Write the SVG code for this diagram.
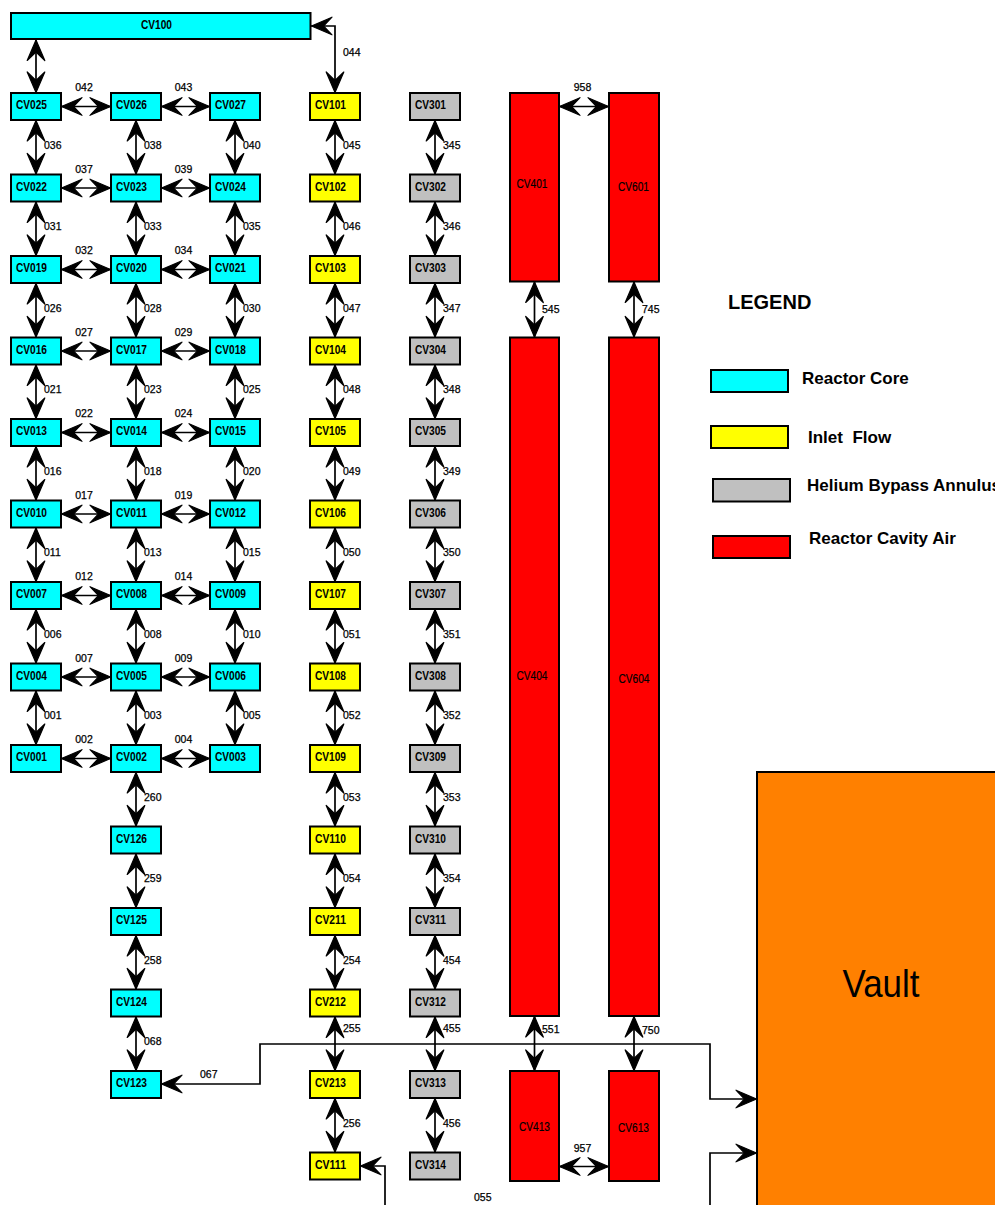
<svg xmlns="http://www.w3.org/2000/svg" width="995" height="1205" viewBox="0 0 995 1205">
<style>
.n rect{stroke:#000;stroke-width:2}
.c{fill:#00FFFF}.y{fill:#FFFF00}.g{fill:#C0C0C0}.r{fill:#FF0000}
.nl{font-family:"Liberation Sans",Arial,sans-serif;font-weight:bold;font-size:13px;fill:#000}
.rl{font-family:"Liberation Sans",Arial,sans-serif;font-size:12.5px;fill:#000;stroke:#000;stroke-width:0.2;text-anchor:middle}
.ll{font-family:"Liberation Sans",Arial,sans-serif;font-size:10.5px;fill:#000;stroke:#000;stroke-width:0.25}
.lm{text-anchor:middle}
#connectors path{stroke:#000;stroke-width:1.7;fill:none;marker-start:url(#ah);marker-end:url(#ah)}
.lg{font-family:"Liberation Sans",Arial,sans-serif;font-weight:bold;font-size:17px;fill:#000;white-space:pre}
</style>
<defs>
<marker id="ah" viewBox="-23 -11 24 22" refX="0" refY="0" markerWidth="24" markerHeight="22" markerUnits="userSpaceOnUse" orient="auto-start-reverse">
<path d="M-0.5,0 L-21,-8.8 L-12.5,0 L-21,8.8 Z" fill="#000" stroke="#000" stroke-width="1.2" stroke-linejoin="round"/>
</marker>
</defs>
<rect width="995" height="1205" fill="#fff"/>

<g id="connectors">
<path d="M36 39.5 V93"/>
<path d="M311 26 H335 V93"/>
<path d="M61 106.5 H111"/><path d="M161 106.5 H210"/>
<path d="M61 188 H111"/><path d="M161 188 H210"/>
<path d="M61 269.5 H111"/><path d="M161 269.5 H210"/>
<path d="M61 351 H111"/><path d="M161 351 H210"/>
<path d="M61 432.5 H111"/><path d="M161 432.5 H210"/>
<path d="M61 514 H111"/><path d="M161 514 H210"/>
<path d="M61 595.5 H111"/><path d="M161 595.5 H210"/>
<path d="M61 677 H111"/><path d="M161 677 H210"/>
<path d="M61 758.5 H111"/><path d="M161 758.5 H210"/>
<path d="M36 120 V174.5"/><path d="M136 120 V174.5"/><path d="M235 120 V174.5"/>
<path d="M36 201.5 V256"/><path d="M136 201.5 V256"/><path d="M235 201.5 V256"/>
<path d="M36 283 V337.5"/><path d="M136 283 V337.5"/><path d="M235 283 V337.5"/>
<path d="M36 364.5 V419"/><path d="M136 364.5 V419"/><path d="M235 364.5 V419"/>
<path d="M36 446 V500.5"/><path d="M136 446 V500.5"/><path d="M235 446 V500.5"/>
<path d="M36 527.5 V582"/><path d="M136 527.5 V582"/><path d="M235 527.5 V582"/>
<path d="M36 609 V663.5"/><path d="M136 609 V663.5"/><path d="M235 609 V663.5"/>
<path d="M36 690.5 V745"/><path d="M136 690.5 V745"/><path d="M235 690.5 V745"/>
<path d="M136 772 V826.5"/><path d="M136 853.5 V908"/><path d="M136 935 V989.5"/><path d="M136 1016.5 V1071"/>
<path d="M335 120 V174.5"/><path d="M335 201.5 V256"/><path d="M335 283 V337.5"/><path d="M335 364.5 V419"/>
<path d="M335 446 V500.5"/><path d="M335 527.5 V582"/><path d="M335 609 V663.5"/><path d="M335 690.5 V745"/>
<path d="M335 772 V826.5"/><path d="M335 853.5 V908"/><path d="M335 935 V989.5"/><path d="M335 1016.5 V1071"/><path d="M335 1098 V1152.5"/>
<path d="M435 120 V174.5"/><path d="M435 201.5 V256"/><path d="M435 283 V337.5"/><path d="M435 364.5 V419"/>
<path d="M435 446 V500.5"/><path d="M435 527.5 V582"/><path d="M435 609 V663.5"/><path d="M435 690.5 V745"/>
<path d="M435 772 V826.5"/><path d="M435 853.5 V908"/><path d="M435 935 V989.5"/><path d="M435 1016.5 V1071"/><path d="M435 1098 V1152.5"/>
<path d="M559 106.5 H609"/>
<path d="M534.5 281.5 V337.5"/><path d="M634 281.5 V337.5"/>
<path d="M534.5 1016 V1071"/><path d="M634 1016 V1071"/>
<path d="M559 1166.5 H609"/>
<path d="M161 1084 H260 V1044 H710 V1099 H757"/>
<path d="M360 1166 H385 V1240 H710 V1153 H757"/>
</g>

<g id="link-labels">
<text class="ll" x="343" y="56">044</text>
<text class="ll lm" x="84" y="91">042</text><text class="ll lm" x="183.5" y="91">043</text>
<text class="ll lm" x="84" y="172.5">037</text><text class="ll lm" x="183.5" y="172.5">039</text>
<text class="ll lm" x="84" y="254">032</text><text class="ll lm" x="183.5" y="254">034</text>
<text class="ll lm" x="84" y="335.5">027</text><text class="ll lm" x="183.5" y="335.5">029</text>
<text class="ll lm" x="84" y="417">022</text><text class="ll lm" x="183.5" y="417">024</text>
<text class="ll lm" x="84" y="498.5">017</text><text class="ll lm" x="183.5" y="498.5">019</text>
<text class="ll lm" x="84" y="580">012</text><text class="ll lm" x="183.5" y="580">014</text>
<text class="ll lm" x="84" y="661.5">007</text><text class="ll lm" x="183.5" y="661.5">009</text>
<text class="ll lm" x="84" y="743">002</text><text class="ll lm" x="183.5" y="743">004</text>
<text class="ll" x="44" y="148.5">036</text><text class="ll" x="144" y="148.5">038</text><text class="ll" x="243" y="148.5">040</text>
<text class="ll" x="44" y="230">031</text><text class="ll" x="144" y="230">033</text><text class="ll" x="243" y="230">035</text>
<text class="ll" x="44" y="311.5">026</text><text class="ll" x="144" y="311.5">028</text><text class="ll" x="243" y="311.5">030</text>
<text class="ll" x="44" y="393">021</text><text class="ll" x="144" y="393">023</text><text class="ll" x="243" y="393">025</text>
<text class="ll" x="44" y="474.5">016</text><text class="ll" x="144" y="474.5">018</text><text class="ll" x="243" y="474.5">020</text>
<text class="ll" x="44" y="556">011</text><text class="ll" x="144" y="556">013</text><text class="ll" x="243" y="556">015</text>
<text class="ll" x="44" y="637.5">006</text><text class="ll" x="144" y="637.5">008</text><text class="ll" x="243" y="637.5">010</text>
<text class="ll" x="44" y="719">001</text><text class="ll" x="144" y="719">003</text><text class="ll" x="243" y="719">005</text>
<text class="ll" x="144" y="800.5">260</text><text class="ll" x="144" y="882">259</text><text class="ll" x="144" y="963.5">258</text><text class="ll" x="144" y="1045">068</text>
<text class="ll" x="343" y="148.5">045</text><text class="ll" x="343" y="230">046</text><text class="ll" x="343" y="311.5">047</text><text class="ll" x="343" y="393">048</text>
<text class="ll" x="343" y="474.5">049</text><text class="ll" x="343" y="556">050</text><text class="ll" x="343" y="637.5">051</text><text class="ll" x="343" y="719">052</text>
<text class="ll" x="343" y="800.5">053</text><text class="ll" x="343" y="882">054</text><text class="ll" x="343" y="963.5">254</text><text class="ll" x="343" y="1032">255</text><text class="ll" x="343" y="1126.5">256</text>
<text class="ll" x="443" y="148.5">345</text><text class="ll" x="443" y="230">346</text><text class="ll" x="443" y="311.5">347</text><text class="ll" x="443" y="393">348</text>
<text class="ll" x="443" y="474.5">349</text><text class="ll" x="443" y="556">350</text><text class="ll" x="443" y="637.5">351</text><text class="ll" x="443" y="719">352</text>
<text class="ll" x="443" y="800.5">353</text><text class="ll" x="443" y="882">354</text><text class="ll" x="443" y="963.5">454</text><text class="ll" x="443" y="1032">455</text><text class="ll" x="443" y="1126.5">456</text>
<text class="ll lm" x="582.5" y="91">958</text>
<text class="ll" x="542" y="312.5">545</text><text class="ll" x="642" y="312.5">745</text>
<text class="ll" x="542" y="1033">551</text><text class="ll" x="642" y="1034">750</text>
<text class="ll lm" x="582.5" y="1151.5">957</text>
<text class="ll" x="200" y="1078">067</text>
<text class="ll" x="474" y="1200.5">055</text>
</g>

<g id="CV100" class="n"><rect class="c" x="11" y="13" width="299.5" height="26"/><text class="nl" x="141" y="28.5" textLength="31" lengthAdjust="spacingAndGlyphs">CV100</text></g>

<g id="CV025" class="n"><rect class="c" x="11" y="93" width="50" height="27"/><text class="nl" x="16" y="109" textLength="31" lengthAdjust="spacingAndGlyphs">CV025</text></g>
<g id="CV026" class="n"><rect class="c" x="111" y="93" width="50" height="27"/><text class="nl" x="116" y="109" textLength="31" lengthAdjust="spacingAndGlyphs">CV026</text></g>
<g id="CV027" class="n"><rect class="c" x="210" y="93" width="50" height="27"/><text class="nl" x="215" y="109" textLength="31" lengthAdjust="spacingAndGlyphs">CV027</text></g>
<g id="CV022" class="n"><rect class="c" x="11" y="174.5" width="50" height="27"/><text class="nl" x="16" y="190.5" textLength="31" lengthAdjust="spacingAndGlyphs">CV022</text></g>
<g id="CV023" class="n"><rect class="c" x="111" y="174.5" width="50" height="27"/><text class="nl" x="116" y="190.5" textLength="31" lengthAdjust="spacingAndGlyphs">CV023</text></g>
<g id="CV024" class="n"><rect class="c" x="210" y="174.5" width="50" height="27"/><text class="nl" x="215" y="190.5" textLength="31" lengthAdjust="spacingAndGlyphs">CV024</text></g>
<g id="CV019" class="n"><rect class="c" x="11" y="256" width="50" height="27"/><text class="nl" x="16" y="272" textLength="31" lengthAdjust="spacingAndGlyphs">CV019</text></g>
<g id="CV020" class="n"><rect class="c" x="111" y="256" width="50" height="27"/><text class="nl" x="116" y="272" textLength="31" lengthAdjust="spacingAndGlyphs">CV020</text></g>
<g id="CV021" class="n"><rect class="c" x="210" y="256" width="50" height="27"/><text class="nl" x="215" y="272" textLength="31" lengthAdjust="spacingAndGlyphs">CV021</text></g>
<g id="CV016" class="n"><rect class="c" x="11" y="337.5" width="50" height="27"/><text class="nl" x="16" y="353.5" textLength="31" lengthAdjust="spacingAndGlyphs">CV016</text></g>
<g id="CV017" class="n"><rect class="c" x="111" y="337.5" width="50" height="27"/><text class="nl" x="116" y="353.5" textLength="31" lengthAdjust="spacingAndGlyphs">CV017</text></g>
<g id="CV018" class="n"><rect class="c" x="210" y="337.5" width="50" height="27"/><text class="nl" x="215" y="353.5" textLength="31" lengthAdjust="spacingAndGlyphs">CV018</text></g>
<g id="CV013" class="n"><rect class="c" x="11" y="419" width="50" height="27"/><text class="nl" x="16" y="435" textLength="31" lengthAdjust="spacingAndGlyphs">CV013</text></g>
<g id="CV014" class="n"><rect class="c" x="111" y="419" width="50" height="27"/><text class="nl" x="116" y="435" textLength="31" lengthAdjust="spacingAndGlyphs">CV014</text></g>
<g id="CV015" class="n"><rect class="c" x="210" y="419" width="50" height="27"/><text class="nl" x="215" y="435" textLength="31" lengthAdjust="spacingAndGlyphs">CV015</text></g>
<g id="CV010" class="n"><rect class="c" x="11" y="500.5" width="50" height="27"/><text class="nl" x="16" y="516.5" textLength="31" lengthAdjust="spacingAndGlyphs">CV010</text></g>
<g id="CV011" class="n"><rect class="c" x="111" y="500.5" width="50" height="27"/><text class="nl" x="116" y="516.5" textLength="31" lengthAdjust="spacingAndGlyphs">CV011</text></g>
<g id="CV012" class="n"><rect class="c" x="210" y="500.5" width="50" height="27"/><text class="nl" x="215" y="516.5" textLength="31" lengthAdjust="spacingAndGlyphs">CV012</text></g>
<g id="CV007" class="n"><rect class="c" x="11" y="582" width="50" height="27"/><text class="nl" x="16" y="598" textLength="31" lengthAdjust="spacingAndGlyphs">CV007</text></g>
<g id="CV008" class="n"><rect class="c" x="111" y="582" width="50" height="27"/><text class="nl" x="116" y="598" textLength="31" lengthAdjust="spacingAndGlyphs">CV008</text></g>
<g id="CV009" class="n"><rect class="c" x="210" y="582" width="50" height="27"/><text class="nl" x="215" y="598" textLength="31" lengthAdjust="spacingAndGlyphs">CV009</text></g>
<g id="CV004" class="n"><rect class="c" x="11" y="663.5" width="50" height="27"/><text class="nl" x="16" y="679.5" textLength="31" lengthAdjust="spacingAndGlyphs">CV004</text></g>
<g id="CV005" class="n"><rect class="c" x="111" y="663.5" width="50" height="27"/><text class="nl" x="116" y="679.5" textLength="31" lengthAdjust="spacingAndGlyphs">CV005</text></g>
<g id="CV006" class="n"><rect class="c" x="210" y="663.5" width="50" height="27"/><text class="nl" x="215" y="679.5" textLength="31" lengthAdjust="spacingAndGlyphs">CV006</text></g>
<g id="CV001" class="n"><rect class="c" x="11" y="745" width="50" height="27"/><text class="nl" x="16" y="761" textLength="31" lengthAdjust="spacingAndGlyphs">CV001</text></g>
<g id="CV002" class="n"><rect class="c" x="111" y="745" width="50" height="27"/><text class="nl" x="116" y="761" textLength="31" lengthAdjust="spacingAndGlyphs">CV002</text></g>
<g id="CV003" class="n"><rect class="c" x="210" y="745" width="50" height="27"/><text class="nl" x="215" y="761" textLength="31" lengthAdjust="spacingAndGlyphs">CV003</text></g>
<g id="CV126" class="n"><rect class="c" x="111" y="826.5" width="50" height="27"/><text class="nl" x="116" y="842.5" textLength="31" lengthAdjust="spacingAndGlyphs">CV126</text></g>
<g id="CV125" class="n"><rect class="c" x="111" y="908" width="50" height="27"/><text class="nl" x="116" y="924" textLength="31" lengthAdjust="spacingAndGlyphs">CV125</text></g>
<g id="CV124" class="n"><rect class="c" x="111" y="989.5" width="50" height="27"/><text class="nl" x="116" y="1005.5" textLength="31" lengthAdjust="spacingAndGlyphs">CV124</text></g>
<g id="CV123" class="n"><rect class="c" x="111" y="1071" width="50" height="27"/><text class="nl" x="116" y="1087" textLength="31" lengthAdjust="spacingAndGlyphs">CV123</text></g>

<g id="CV101" class="n"><rect class="y" x="310" y="93" width="50" height="27"/><text class="nl" x="315" y="109" textLength="31" lengthAdjust="spacingAndGlyphs">CV101</text></g>
<g id="CV102" class="n"><rect class="y" x="310" y="174.5" width="50" height="27"/><text class="nl" x="315" y="190.5" textLength="31" lengthAdjust="spacingAndGlyphs">CV102</text></g>
<g id="CV103" class="n"><rect class="y" x="310" y="256" width="50" height="27"/><text class="nl" x="315" y="272" textLength="31" lengthAdjust="spacingAndGlyphs">CV103</text></g>
<g id="CV104" class="n"><rect class="y" x="310" y="337.5" width="50" height="27"/><text class="nl" x="315" y="353.5" textLength="31" lengthAdjust="spacingAndGlyphs">CV104</text></g>
<g id="CV105" class="n"><rect class="y" x="310" y="419" width="50" height="27"/><text class="nl" x="315" y="435" textLength="31" lengthAdjust="spacingAndGlyphs">CV105</text></g>
<g id="CV106" class="n"><rect class="y" x="310" y="500.5" width="50" height="27"/><text class="nl" x="315" y="516.5" textLength="31" lengthAdjust="spacingAndGlyphs">CV106</text></g>
<g id="CV107" class="n"><rect class="y" x="310" y="582" width="50" height="27"/><text class="nl" x="315" y="598" textLength="31" lengthAdjust="spacingAndGlyphs">CV107</text></g>
<g id="CV108" class="n"><rect class="y" x="310" y="663.5" width="50" height="27"/><text class="nl" x="315" y="679.5" textLength="31" lengthAdjust="spacingAndGlyphs">CV108</text></g>
<g id="CV109" class="n"><rect class="y" x="310" y="745" width="50" height="27"/><text class="nl" x="315" y="761" textLength="31" lengthAdjust="spacingAndGlyphs">CV109</text></g>
<g id="CV110" class="n"><rect class="y" x="310" y="826.5" width="50" height="27"/><text class="nl" x="315" y="842.5" textLength="31" lengthAdjust="spacingAndGlyphs">CV110</text></g>
<g id="CV211" class="n"><rect class="y" x="310" y="908" width="50" height="27"/><text class="nl" x="315" y="924" textLength="31" lengthAdjust="spacingAndGlyphs">CV211</text></g>
<g id="CV212" class="n"><rect class="y" x="310" y="989.5" width="50" height="27"/><text class="nl" x="315" y="1005.5" textLength="31" lengthAdjust="spacingAndGlyphs">CV212</text></g>
<g id="CV213" class="n"><rect class="y" x="310" y="1071" width="50" height="27"/><text class="nl" x="315" y="1087" textLength="31" lengthAdjust="spacingAndGlyphs">CV213</text></g>
<g id="CV111" class="n"><rect class="y" x="310" y="1152.5" width="50" height="27"/><text class="nl" x="315" y="1168.5" textLength="31" lengthAdjust="spacingAndGlyphs">CV111</text></g>

<g id="CV301" class="n"><rect class="g" x="410" y="93" width="50" height="27"/><text class="nl" x="415" y="109" textLength="31" lengthAdjust="spacingAndGlyphs">CV301</text></g>
<g id="CV302" class="n"><rect class="g" x="410" y="174.5" width="50" height="27"/><text class="nl" x="415" y="190.5" textLength="31" lengthAdjust="spacingAndGlyphs">CV302</text></g>
<g id="CV303" class="n"><rect class="g" x="410" y="256" width="50" height="27"/><text class="nl" x="415" y="272" textLength="31" lengthAdjust="spacingAndGlyphs">CV303</text></g>
<g id="CV304" class="n"><rect class="g" x="410" y="337.5" width="50" height="27"/><text class="nl" x="415" y="353.5" textLength="31" lengthAdjust="spacingAndGlyphs">CV304</text></g>
<g id="CV305" class="n"><rect class="g" x="410" y="419" width="50" height="27"/><text class="nl" x="415" y="435" textLength="31" lengthAdjust="spacingAndGlyphs">CV305</text></g>
<g id="CV306" class="n"><rect class="g" x="410" y="500.5" width="50" height="27"/><text class="nl" x="415" y="516.5" textLength="31" lengthAdjust="spacingAndGlyphs">CV306</text></g>
<g id="CV307" class="n"><rect class="g" x="410" y="582" width="50" height="27"/><text class="nl" x="415" y="598" textLength="31" lengthAdjust="spacingAndGlyphs">CV307</text></g>
<g id="CV308" class="n"><rect class="g" x="410" y="663.5" width="50" height="27"/><text class="nl" x="415" y="679.5" textLength="31" lengthAdjust="spacingAndGlyphs">CV308</text></g>
<g id="CV309" class="n"><rect class="g" x="410" y="745" width="50" height="27"/><text class="nl" x="415" y="761" textLength="31" lengthAdjust="spacingAndGlyphs">CV309</text></g>
<g id="CV310" class="n"><rect class="g" x="410" y="826.5" width="50" height="27"/><text class="nl" x="415" y="842.5" textLength="31" lengthAdjust="spacingAndGlyphs">CV310</text></g>
<g id="CV311" class="n"><rect class="g" x="410" y="908" width="50" height="27"/><text class="nl" x="415" y="924" textLength="31" lengthAdjust="spacingAndGlyphs">CV311</text></g>
<g id="CV312" class="n"><rect class="g" x="410" y="989.5" width="50" height="27"/><text class="nl" x="415" y="1005.5" textLength="31" lengthAdjust="spacingAndGlyphs">CV312</text></g>
<g id="CV313" class="n"><rect class="g" x="410" y="1071" width="50" height="27"/><text class="nl" x="415" y="1087" textLength="31" lengthAdjust="spacingAndGlyphs">CV313</text></g>
<g id="CV314" class="n"><rect class="g" x="410" y="1152.5" width="50" height="27"/><text class="nl" x="415" y="1168.5" textLength="31" lengthAdjust="spacingAndGlyphs">CV314</text></g>

<g id="CV401" class="n"><rect class="r" x="510" y="93" width="49" height="188.5"/><text class="rl" x="532" y="188" textLength="31" lengthAdjust="spacingAndGlyphs">CV401</text></g>
<g id="CV404" class="n"><rect class="r" x="510" y="337.5" width="49" height="678.5"/><text class="rl" x="532" y="680" textLength="31" lengthAdjust="spacingAndGlyphs">CV404</text></g>
<g id="CV413" class="n"><rect class="r" x="510" y="1071" width="49" height="110"/><text class="rl" x="534.5" y="1131" textLength="31" lengthAdjust="spacingAndGlyphs">CV413</text></g>
<g id="CV601" class="n"><rect class="r" x="609" y="93" width="50" height="188.5"/><text class="rl" x="633.5" y="191" textLength="31" lengthAdjust="spacingAndGlyphs">CV601</text></g>
<g id="CV604" class="n"><rect class="r" x="609" y="337.5" width="50" height="678.5"/><text class="rl" x="634" y="683" textLength="31" lengthAdjust="spacingAndGlyphs">CV604</text></g>
<g id="CV613" class="n"><rect class="r" x="609" y="1071" width="50" height="110"/><text class="rl" x="633.5" y="1132" textLength="31" lengthAdjust="spacingAndGlyphs">CV613</text></g>

<g id="Vault" class="n"><rect x="757" y="772" width="300" height="500" fill="#FF8000"/><text x="881" y="997" text-anchor="middle" font-family="Liberation Sans, Arial, sans-serif" font-size="39" textLength="77" lengthAdjust="spacingAndGlyphs">Vault</text></g>

<g id="legend">
<text x="728" y="309" font-family="Liberation Sans, Arial, sans-serif" font-weight="bold" font-size="20">LEGEND</text>
<rect x="711" y="370" width="77" height="22" fill="#00FFFF" stroke="#000" stroke-width="2"/>
<text class="lg" x="802" y="384">Reactor Core</text>
<rect x="711" y="426" width="77" height="22" fill="#FFFF00" stroke="#000" stroke-width="2"/>
<text class="lg" x="808" y="443" xml:space="preserve">Inlet  Flow</text>
<rect x="713" y="479" width="77" height="22.5" fill="#C0C0C0" stroke="#000" stroke-width="2"/>
<text class="lg" x="807" y="491">Helium Bypass Annulus</text>
<rect x="713" y="536" width="77" height="22" fill="#FF0000" stroke="#000" stroke-width="2"/>
<text class="lg" x="809" y="544">Reactor Cavity Air</text>
</g>
</svg>
